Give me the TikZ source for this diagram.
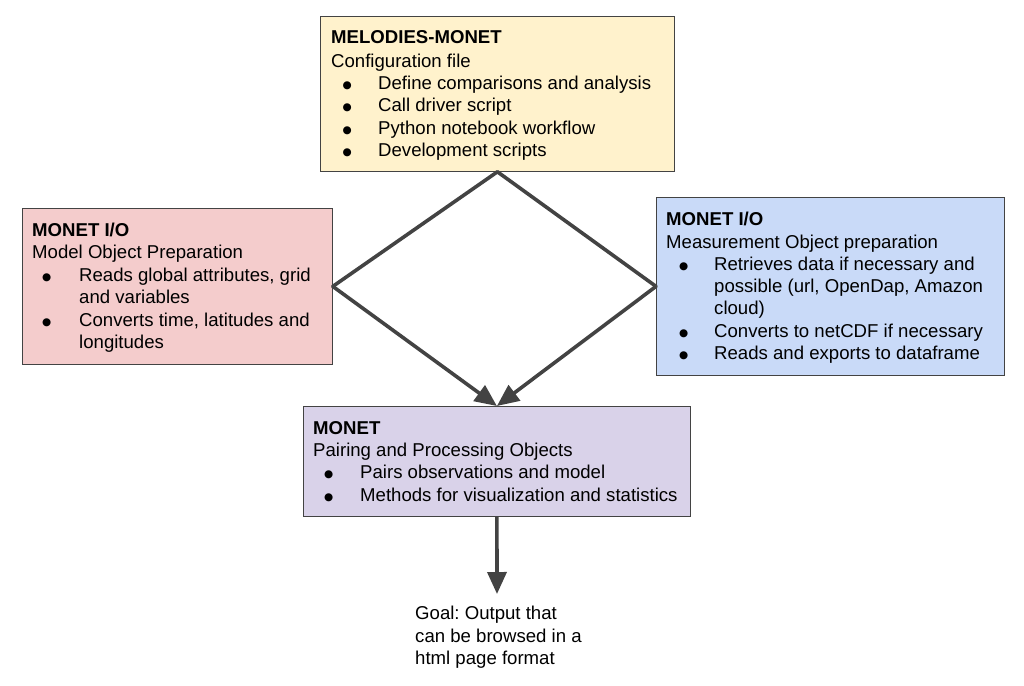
\documentclass[tikz,border=0pt]{standalone}
\usepackage{fontspec}
\setmainfont{Liberation Sans}
\newfontfamily\symf{DejaVu Sans}
\usetikzlibrary{arrows.meta}
\frenchspacing
\definecolor{edgegray}{HTML}{434343}
\definecolor{yfill}{HTML}{FFF2CC}
\definecolor{rfill}{HTML}{F4CCCC}
\definecolor{bfill}{HTML}{C9DAF8}
\definecolor{pfill}{HTML}{D9D2E9}
\newcommand{\bul}{\raisebox{0.3pt}{\symf\fontsize{10.5}{10.5}\selectfont ●}}
\newcommand{\bitem}[2]{\makebox[#1pt][l]{\bul}#2}
\begin{document}
\begin{tikzpicture}[x=1pt,y=-1pt,
  box/.style={draw=edgegray, line width=0.8pt, anchor=north west, inner sep=0pt},
  txt/.style={anchor=base west, inner sep=0pt, font=\fontsize{18.6}{22}\selectfont},
  conn/.style={draw=edgegray, line width=3.6pt, line cap=round, line join=round},
  tip/.style={-{Triangle[length=22pt,width=19pt]}}
]
\useasboundingbox (0,0) rectangle (1024,685);
% boxes
\node[box, fill=yfill, minimum width=354pt, minimum height=155pt] (top) at (320,16) {};
\node[box, fill=rfill, minimum width=310pt, minimum height=156pt] (left) at (22,208) {};
\node[box, fill=bfill, minimum width=348pt, minimum height=178pt] (right) at (656,197) {};
\node[box, fill=pfill, minimum width=387pt, minimum height=110pt] (bot) at (303,406) {};
\coordinate (goalpt) at (497,594);
% connectors
\draw[conn] (top.south) -- (left.east);
\draw[conn] (top.south) -- (right.west);
\draw[conn, tip] (left.east) -- (bot.north);
\draw[conn, tip] (right.west) -- (bot.north);
\draw[conn, tip, line cap=butt] (bot.south) -- (goalpt);
% top text
\node[txt] (t1) at (331,44) {\textbf{MELODIES-MONET}};
\node[txt] (t2) at (331,67) {Configuration file};
\node[txt] (t3) at (342.5,89) {\bitem{35.5}{Define comparisons and analysis}};
\node[txt] (t4) at (342.5,111) {\bitem{35.5}{Call driver script}};
\node[txt] (t5) at (342.5,134) {\bitem{35.5}{Python notebook workflow}};
\node[txt] (t6) at (342.5,156) {\bitem{35.5}{Development scripts}};
% left text
\node[txt] (l1) at (32,236) {\textbf{MONET I/O}};
\node[txt] (l2) at (32,258) {Model Object Preparation};
\node[txt] (l3) at (42,281) {\bitem{37}{Reads global attributes, grid}};
\node[txt] (l4) at (79,303) {and variables};
\node[txt] (l5) at (42,326) {\bitem{37}{Converts time, latitudes and}};
\node[txt] (l6) at (79,348) {longitudes};
% right text
\node[txt] (r1) at (666,225) {\textbf{MONET I/O}};
\node[txt] (r2) at (666,248) {Measurement Object preparation};
\node[txt] (r3) at (679,270) {\bitem{35}{Retrieves data if necessary and}};
\node[txt] (r4) at (714,292) {possible (url, OpenDap, Amazon};
\node[txt] (r5) at (714,314) {cloud)};
\node[txt] (r6) at (679,337) {\bitem{35}{Converts to netCDF if necessary}};
\node[txt] (r7) at (679,359) {\bitem{35}{Reads and exports to dataframe}};
% bottom text
\node[txt] (b1) at (313,434) {\textbf{MONET}};
\node[txt] (b2) at (313,456) {Pairing and Processing Objects};
\node[txt] (b3) at (324,478) {\bitem{36}{Pairs observations and model}};
\node[txt] (b4) at (324,501) {\bitem{36}{Methods for visualization and statistics}};
% goal text
\node[txt] (g1) at (415,619) {Goal: Output that};
\node[txt] (g2) at (415,642) {can be browsed in a};
\node[txt] (g3) at (415,664) {html page format};
\end{tikzpicture}
\end{document}
